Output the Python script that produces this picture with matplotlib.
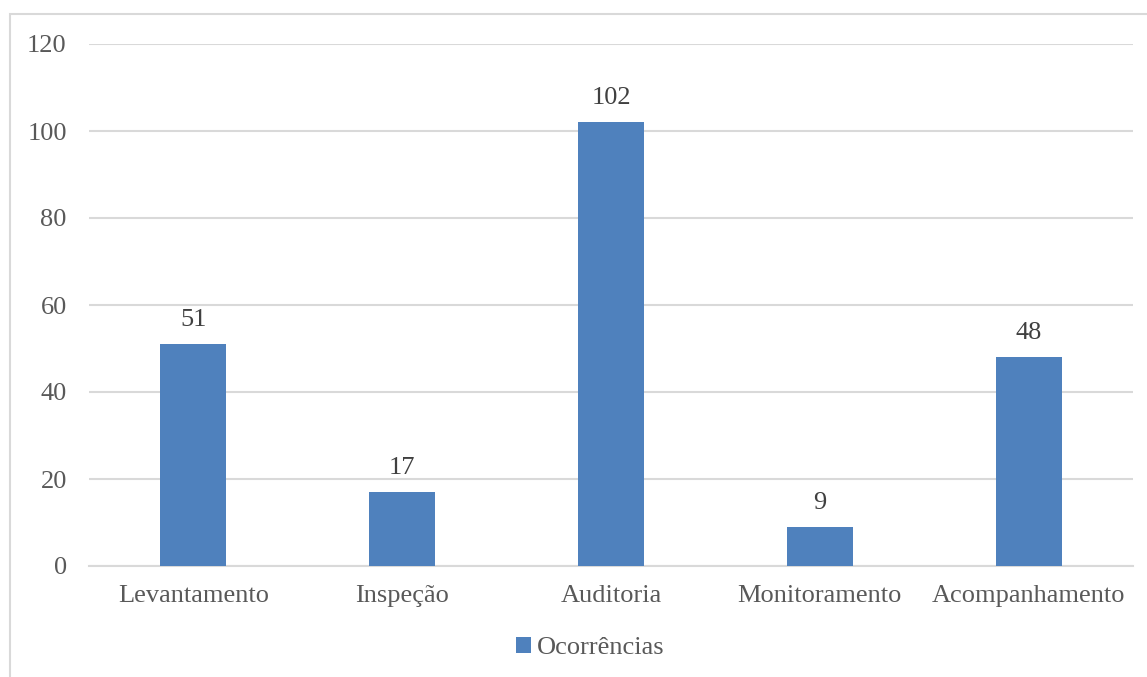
import matplotlib.pyplot as plt
from matplotlib.patches import Rectangle

categories = ['Levantamento', 'Inspeção', 'Auditoria', 'Monitoramento', 'Acompanhamento']
ocorrencias = [51, 17, 102, 9, 48]
yticks = [0, 20, 40, 60, 80, 100, 120]

plt.rcParams['font.family'] = ['Liberation Serif', 'DejaVu Serif']
text_color = '#595959'
grid_color = '#D9D9D9'
bar_color = '#4F81BD'
fs = 19

fig = plt.figure(figsize=(11.47, 6.77), dpi=100)
ax = fig.add_axes([89 / 1147, 1 - 566 / 677, 1044 / 1147, 522 / 677])

x = list(range(len(categories)))
bars = ax.bar(x, ocorrencias, width=0.316, color=bar_color, label='Ocorrências', zorder=3)
for xi, v in zip(x, ocorrencias):
    ax.text(xi, v + 3, str(v), ha='center', va='bottom', fontsize=fs, color='#404040')

ax.set_xlim(-0.5, len(categories) - 0.5)
ax.set_ylim(0, 120)
ax.set_yticks(yticks)
ax.set_yticklabels([str(t) for t in yticks], fontsize=fs, color=text_color)
ax.set_xticks(x)
ax.set_xticklabels(categories, fontsize=fs, color=text_color)
ax.tick_params(axis='both', length=0)
ax.tick_params(axis='y', pad=16)
ax.tick_params(axis='x', pad=14)
ax.grid(axis='y', color=grid_color, linewidth=1.5, zorder=0)
for side in ['left', 'right', 'top']:
    ax.spines[side].set_visible(False)
ax.spines['bottom'].set_color(grid_color)
ax.spines['bottom'].set_linewidth(1.5)

leg = fig.legend(handles=[bars], labels=['Ocorrências'], loc='center',
                 bbox_to_anchor=(590 / 1147, 1 - 648 / 677), frameon=False,
                 fontsize=fs, handlelength=0.6, handleheight=0.6, handletextpad=0.2)
for t in leg.get_texts():
    t.set_color(text_color)

# outer chart border (cut off at right and bottom)
fig.patches.append(Rectangle((10 / 1147, -0.1), 1.2, 1 - 14 / 677 + 0.1,
                             transform=fig.transFigure, fill=False,
                             edgecolor=grid_color, linewidth=1.5))

fig.savefig('out.png', dpi=100)
